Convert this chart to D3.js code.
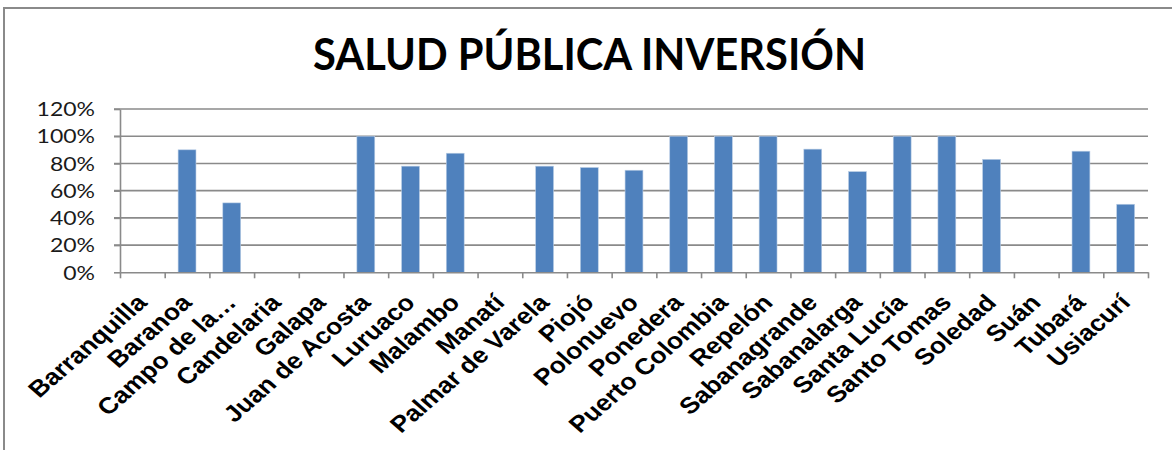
<!DOCTYPE html>
<html>
<head>
<meta charset="utf-8">
<script src="https://cdn.jsdelivr.net/npm/d3@7"></script>
<style>
  body { margin: 0; background: #fff; }
</style>
</head>
<body>
<svg width="1172" height="450"></svg>
<script>
// municipios y porcentaje de inversion
var municipios = ["Barranquilla", "Baranoa", "Campo de la…", "Candelaria", "Galapa",
  "Juan de Acosta", "Luruaco", "Malambo", "Manatí", "Palmar de Varela", "Piojó",
  "Polonuevo", "Ponedera", "Puerto Colombia", "Repelón", "Sabanagrande",
  "Sabanalarga", "Santa Lucía", "Santo Tomas", "Soledad", "Suán", "Tubará", "Usiacurí"];
var inversion = [0, 0.90, 0.51, 0, 0, 1.00, 0.78, 0.875, 0, 0.78, 0.77,
  0.75, 1.00, 1.00, 1.00, 0.905, 0.74, 1.00, 1.00, 0.83, 0, 0.89, 0.50];
var yTicks = [0, 0.2, 0.4, 0.6, 0.8, 1.0, 1.2];
var yTickLabels = ["0%", "20%", "40%", "60%", "80%", "100%", "120%"];

var svg = d3.select("svg"),
    plotLeft = 120, plotRight = 1148, plotTop = 109, plotBottom = 272.3,
    stretch = 1.15;   // the original picture is a bit wider than tall

// marco del grafico
svg.append("path")
  .attr("d", "M4,450 L4,8 L1172,8")
  .attr("fill", "none")
  .attr("stroke", "#8a8a8a")
  .attr("stroke-width", 2);

svg.append("text")
  .attr("x", 589.5)
  .attr("y", 70)
  .attr("text-anchor", "middle")
  .attr("font-family", "Lato, 'Open Sans', sans-serif")
  .attr("font-weight", "bold")
  .attr("font-size", "44px")
  .attr("textLength", 553)
  .attr("lengthAdjust", "spacingAndGlyphs")
  .attr("fill", "#000")
  .text("SALUD PÚBLICA INVERSIÓN");

var xScale = d3.scaleBand().domain(municipios).range([plotLeft, plotRight])
    .paddingInner(0.6).paddingOuter(0.3),
  xEdges = d3.scaleLinear().domain([0, municipios.length]).range([plotLeft, plotRight]),
  yScale = d3.scaleLinear().domain([0, 1.2]).range([plotBottom, plotTop]);

// lineas de cuadricula
svg.append("g")
  .selectAll("line")
  .data(yTicks.slice(1))
  .enter().append("line")
  .attr("x1", plotLeft - 6)
  .attr("x2", plotRight)
  .attr("y1", function(d) { return yScale(d); })
  .attr("y2", function(d) { return yScale(d); })
  .attr("stroke", "#8a8a8a")
  .attr("stroke-width", 1.6);

// eje y
var yAxis = svg.append("g")
  .attr("transform", "translate(" + plotLeft + ",0)")
  .call(d3.axisLeft(yScale).tickValues(yTicks).tickSize(6).tickSizeOuter(0).tickFormat(""));
yAxis.selectAll("path, line").attr("stroke", "#8a8a8a").attr("stroke-width", 1.6);

svg.append("g")
  .selectAll("text")
  .data(yTicks)
  .enter().append("text")
  .attr("transform", function(d) { return "translate(95," + yScale(d) + ") scale(" + stretch + ",1)"; })
  .attr("dy", "0.36em")
  .attr("text-anchor", "end")
  .attr("font-family", "Lato, 'Open Sans', sans-serif")
  .attr("font-size", "20px")
  .attr("fill", "#1a1a1a")
  .text(function(d, i) { return yTickLabels[i]; });

// barras
svg.append("g")
  .selectAll(".bar")
  .data(inversion)
  .enter().append("rect")
  .attr("class", "bar")
  .attr("x", function(d, i) { return xScale(municipios[i]); })
  .attr("y", function(d) { return yScale(d); })
  .attr("width", xScale.bandwidth())
  .attr("height", function(d) { return plotBottom - yScale(d); })
  .attr("fill", "#4f81bd")
  .attr("stroke", "#b9cde5")
  .attr("stroke-width", 0.6);

// eje x, marcas entre categorias
var xAxis = svg.append("g")
  .attr("transform", "translate(0," + plotBottom + ")")
  .call(d3.axisBottom(xEdges).ticks(municipios.length).tickSize(6).tickSizeOuter(0).tickFormat(""));
xAxis.selectAll("path, line").attr("stroke", "#8a8a8a").attr("stroke-width", 1.6);

svg.append("g")
  .selectAll("text")
  .data(municipios)
  .enter().append("text")
  .attr("transform", function(d) {
    var cx = xScale(d) + xScale.bandwidth() / 2 + 6;
    return "translate(" + cx + ",304) scale(" + stretch + ",1) rotate(-45)";
  })
  .attr("text-anchor", "end")
  .attr("font-family", "'Liberation Sans', Arial, sans-serif")
  .attr("font-weight", "bold")
  .attr("font-size", "23px")
  .attr("fill", "#000")
  .text(function(d) { return d; });
</script>
</body>
</html>
